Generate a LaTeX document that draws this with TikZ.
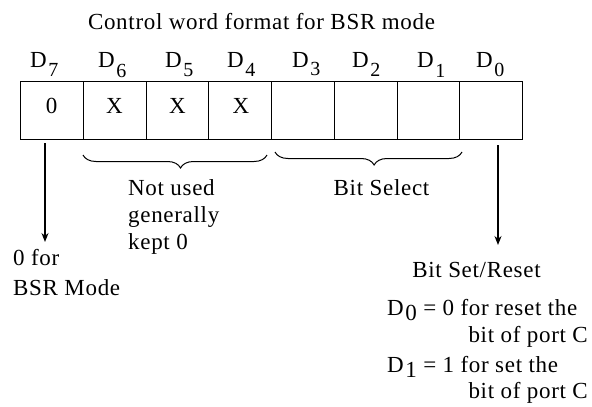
\documentclass[tikz,border=0pt]{standalone}
\usepackage{fontspec}
\setmainfont[LetterSpace=3]{Liberation Serif}
\usetikzlibrary{decorations.pathreplacing,arrows.meta}
% D with a lowered subscript: #1 = digit, #2 = drop, #3 = digit size
\newcommand{\Dlow}[3]{D\kern1.5pt\raisebox{-#2}{\fontsize{#3}{#3}\selectfont #1}}
\begin{document}
\begin{tikzpicture}[x=1pt,y=-1pt,
  txt/.style={inner sep=0pt,font=\fontsize{23}{27}\selectfont},
  cell/.style={draw,line width=1.2pt,minimum width=62.75pt,minimum height=58pt,inner sep=0pt,anchor=north west},
  brc/.style={decorate,decoration={brace,mirror,amplitude=13pt,aspect=0.53},line width=1pt},
  arr/.style={-{Stealth[length=9pt,width=7pt]},line width=1.3pt}]
\useasboundingbox (0,0) rectangle (592,407);
\node[txt,anchor=base] (title) at (261.5,29) {Control word format for BSR mode};
% cells
\node[cell] (c7) at (20,81) {};
\node[cell] (c6) at (82.75,81) {};
\node[cell] (c5) at (145.5,81) {};
\node[cell] (c4) at (208.25,81) {};
\node[cell] (c3) at (271,81) {};
\node[cell] (c2) at (333.75,81) {};
\node[cell] (c1) at (396.5,81) {};
\node[cell] (c0) at (459.25,81) {};
\node[txt,anchor=base] (v7) at (51.5,113) {0};
\node[txt,anchor=base] (v6) at (114.5,113) {X};
\node[txt,anchor=base] (v5) at (177.5,113) {X};
\node[txt,anchor=base] (v4) at (241,113) {X};
% bit labels
\node[txt,anchor=base west] (d7) at (30,67) {\Dlow{7}{9pt}{20}};
\node[txt,anchor=base west] (d6) at (98,67) {\Dlow{6}{10pt}{20}};
\node[txt,anchor=base west] (d5) at (165,67) {\Dlow{5}{9pt}{20}};
\node[txt,anchor=base west] (d4) at (227,67) {\Dlow{4}{9pt}{20}};
\node[txt,anchor=base west] (d3) at (292,67) {\Dlow{3}{8pt}{20}};
\node[txt,anchor=base west] (d2) at (352,67) {\Dlow{2}{9pt}{20}};
\node[txt,anchor=base west] (d1) at (417,67) {\Dlow{1}{10pt}{20}};
\node[txt,anchor=base west] (d0) at (476,67) {\Dlow{0}{9pt}{20}};
% braces
\coordinate (b1s) at (83,155);
\coordinate (b1e) at (267,155);
\coordinate (b2s) at (275,152);
\coordinate (b2e) at (462,152);
\draw[brc] (b1s) -- (b1e);
\draw[brc] (b2s) -- (b2e);
\node[txt,anchor=base west] (nu1) at (128,195) {Not used};
\node[txt,anchor=base west] (nu2) at (128,222) {generally};
\node[txt,anchor=base west] (nu3) at (128,249) {kept 0};
\node[txt,anchor=base] (bs) at (381.5,195) {Bit Select};
% arrows
\coordinate (a7s) at (45,143);
\coordinate (a7e) at (45,242);
\coordinate (a0s) at (498,145);
\coordinate (a0e) at (498,245);
\draw[arr] (a7s) -- (a7e);
\draw[arr] (a0s) -- (a0e);
\node[txt,anchor=base west] (m1) at (13,265) {0 for};
\node[txt,anchor=base west] (m2) at (13,295) {BSR Mode};
\node[txt,anchor=base] (sr) at (476.5,277) {Bit Set/Reset};
\node[txt,anchor=base west] (r1) at (387,315) {\Dlow{0}{5pt}{23} = 0 for reset the};
\node[txt,anchor=base east] (r2) at (588,342) {bit of port C};
\node[txt,anchor=base west] (r3) at (387,372) {\Dlow{1}{5pt}{23} = 1 for set the};
\node[txt,anchor=base east] (r4) at (588,398) {bit of port C};
\end{tikzpicture}
\end{document}
